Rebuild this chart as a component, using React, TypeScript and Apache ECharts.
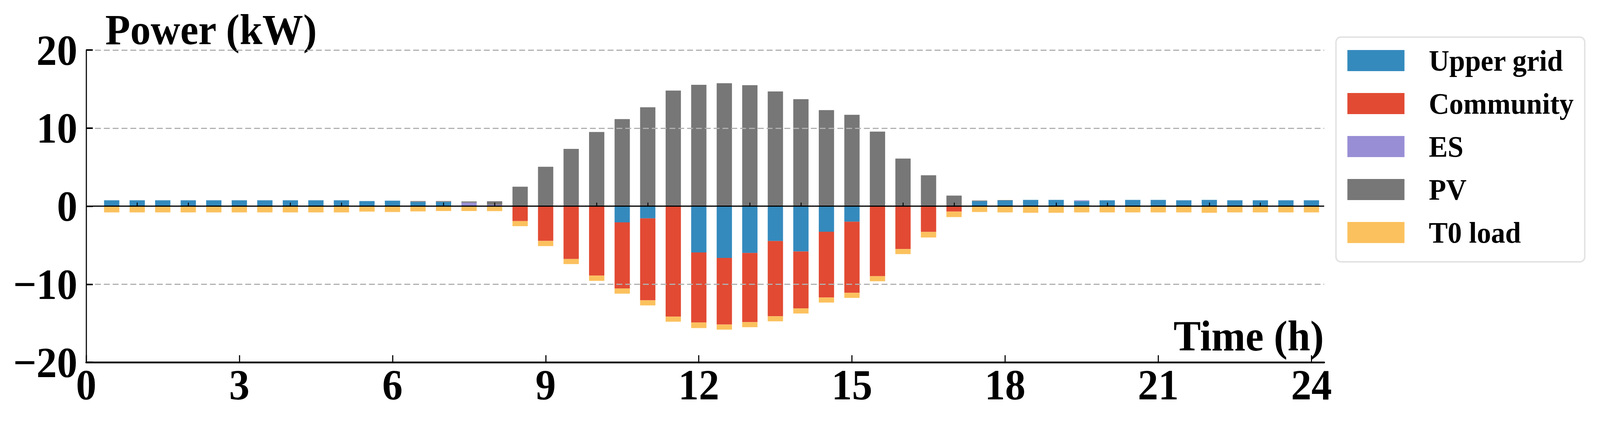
import React, { useEffect, useRef } from "react";
import * as echarts from "echarts";

const HOURS = [
  0.5, 1, 1.5, 2, 2.5, 3, 3.5, 4, 4.5, 5, 5.5, 6, 6.5, 7, 7.5, 8,
  8.5, 9, 9.5, 10, 10.5, 11, 11.5, 12, 12.5, 13, 13.5, 14, 14.5, 15, 15.5, 16,
  16.5, 17, 17.5, 18, 18.5, 19, 19.5, 20, 20.5, 21, 21.5, 22, 22.5, 23, 23.5, 24,
];

const UPPER_GRID = [
  0.75, 0.75, 0.75, 0.75, 0.75, 0.75, 0.75, 0.75, 0.75, 0.75, 0.65, 0.7, 0.55, 0.55, 0, 0,
  0, 0, 0, 0, -2.08, -1.56, 0, -5.93, -6.63, -6.0, -4.47, -5.81, -3.28, -1.99, 0, 0,
  0, 0, 0.65, 0.72, 0.8, 0.8, 0.65, 0.75, 0.8, 0.8, 0.75, 0.8, 0.75, 0.75, 0.75, 0.75,
];

const COMMUNITY = [
  0, 0, 0, 0, 0, 0, 0, 0, 0, 0, 0, 0, 0, 0, 0, 0,
  -1.91, -4.45, -6.77, -8.9, -8.47, -10.5, -14.16, -8.97, -8.54, -8.86, -9.64, -7.3, -8.42, -9.11, -8.97, -5.5,
  -3.3, -0.7, 0, 0, 0, 0, 0, 0, 0, 0, 0, 0, 0, 0, 0, 0,
];

const ES = [
  0, 0, 0, 0, 0, 0, 0, 0, 0, 0, 0, 0, 0, 0, 0.45, 0.18,
  0, 0, 0, 0, 0, 0, 0, 0, 0, 0, 0, 0, 0, 0, 0, 0,
  0, 0, 0, 0, 0, 0, 0.1, 0, 0, 0, 0, 0, 0, 0, 0, 0,
];

const PV = [
  0, 0, 0, 0, 0, 0, 0, 0, 0, 0, 0, 0, 0.1, 0.1, 0.15, 0.45,
  2.49, 5.05, 7.34, 9.5, 11.15, 12.66, 14.81, 15.55, 15.74, 15.5, 14.69, 13.71, 12.3, 11.7, 9.55, 6.1,
  3.95, 1.35, 0.07, 0.05, 0, 0, 0, 0, 0, 0, 0, 0, 0, 0, 0, 0,
];

const T0_LOAD = [
  -0.8, -0.8, -0.8, -0.8, -0.8, -0.8, -0.8, -0.8, -0.8, -0.8, -0.7, -0.75, -0.67, -0.62, -0.62, -0.64,
  -0.65, -0.67, -0.65, -0.67, -0.67, -0.65, -0.65, -0.72, -0.65, -0.65, -0.65, -0.65, -0.65, -0.65, -0.65, -0.65,
  -0.72, -0.7, -0.75, -0.8, -0.85, -0.85, -0.8, -0.8, -0.8, -0.8, -0.8, -0.85, -0.8, -0.8, -0.8, -0.8,
];

const SERIES_NAMES = ["Upper grid", "Community", "ES", "PV", "T0 load"];
const SERIES_VALUES = [UPPER_GRID, COMMUNITY, ES, PV, T0_LOAD];
const SERIES_COLORS = ["#348ABD", "#E24A33", "#988ED5", "#777777", "#FBC15E"];

const X_MAJOR_TICKS = [0, 3, 6, 9, 12, 15, 18, 21, 24];
const X_MINOR_TICKS = [1, 2, 4, 5, 7, 8, 10, 11, 13, 14, 16, 17, 19, 20, 22, 23];
const Y_TICKS = [-20, -10, 0, 10, 20];

const FONT = "'Liberation Serif', 'Times New Roman', Times, serif";
const DESIGN_W = 4345;
const DESIGN_H = 1085;

export default function App() {
  const ref = useRef<HTMLDivElement>(null);
  const sx = typeof window !== "undefined" ? window.innerWidth / DESIGN_W : 1;
  const sy = typeof window !== "undefined" ? window.innerHeight / DESIGN_H : 1;

  useEffect(() => {
    if (!ref.current) return;
    const chart = echarts.init(ref.current, null, { renderer: "svg" });

    const series: any[] = SERIES_NAMES.map((name, si) => ({
      name,
      type: "bar",
      stack: "total",
      stackStrategy: "samesign",
      xAxisIndex: 0,
      yAxisIndex: 0,
      barWidth: 41.5,
      itemStyle: { color: SERIES_COLORS[si] },
      // value first so that stacking is applied to the y dimension
      encode: { x: 1, y: 0 },
      data: HOURS.map((h, i) => [SERIES_VALUES[si][i], h]),
      z: 2,
    }));
    series[4].markLine = {
      silent: true,
      symbol: ["none", "none"],
      label: { show: false },
      lineStyle: { color: "#000", width: 3, type: "solid" },
      z: 6,
      data: [{ yAxis: 0 }],
    };

    const option: any = {
      animation: false,
      backgroundColor: "#fff",
      grid: { left: 234, right: 749, top: 128, bottom: 158, containLabel: false },
      xAxis: [
        {
          type: "value",
          min: 0,
          max: 24.25,
          interval: 3,
          position: "bottom",
          z: 4,
          axisLine: { show: true, onZero: false, lineStyle: { color: "#000", width: 4.5 } },
          axisTick: {
            show: true,
            inside: true,
            length: 18,
            customValues: X_MAJOR_TICKS,
            lineStyle: { color: "#000", width: 3 },
          },
          axisLabel: {
            show: true,
            customValues: X_MAJOR_TICKS,
            margin: 2,
            color: "#000",
            fontFamily: FONT,
            fontWeight: "bold",
            fontSize: 111,
            lineHeight: 111,
          },
          splitLine: { show: false },
        },
        {
          type: "value",
          min: 0,
          max: 24.25,
          position: "bottom",
          z: 4,
          axisLine: { show: false },
          axisTick: {
            show: true,
            inside: true,
            length: 9,
            customValues: X_MINOR_TICKS,
            lineStyle: { color: "#000", width: 2.5 },
          },
          axisLabel: { show: false },
          splitLine: { show: false },
        },
      ],
      yAxis: {
        type: "value",
        min: -20,
        max: 20,
        interval: 10,
        z: 3,
        axisLine: { show: true, onZero: false, lineStyle: { color: "#000", width: 3 } },
        axisTick: {
          show: true,
          inside: true,
          length: 18,
          customValues: Y_TICKS,
          lineStyle: { color: "#000", width: 4 },
        },
        axisLabel: {
          show: true,
          margin: 24,
          color: "#000",
          fontFamily: FONT,
          fontWeight: "bold",
          fontSize: 111,
          formatter: (v: number) => String(v).replace("-", "\u2212"),
        },
        splitLine: {
          show: true,
          lineStyle: { color: "#b0b0b0", width: 3, type: [16, 8] },
        },
      },
      legend: {
        show: true,
        orient: "vertical",
        left: 3628,
        top: 95,
        padding: [21.5, 30, 36.5, 31],
        itemGap: 33,
        itemWidth: 155,
        itemHeight: 54,
        icon: "rect",
        borderColor: "#e3e3e3",
        borderWidth: 4,
        borderRadius: 13,
        backgroundColor: "#fff",
        data: SERIES_NAMES,
        textStyle: {
          color: "#000",
          fontFamily: FONT,
          fontWeight: "bold",
          fontSize: 77,
          lineHeight: 77,
          padding: [0, 0, 0, 61],
        },
      },
      graphic: [
        {
          type: "text",
          x: 286,
          y: 75.5,
          silent: true,
          style: {
            text: "Power (kW)",
            fill: "#000",
            fontFamily: FONT,
            fontWeight: "bold",
            fontSize: 111,
            align: "left",
            verticalAlign: "middle",
          },
        },
        {
          type: "text",
          x: 3595,
          y: 859.5,
          silent: true,
          style: {
            text: "Time (h)",
            fill: "#000",
            fontFamily: FONT,
            fontWeight: "bold",
            fontSize: 111,
            align: "right",
            verticalAlign: "middle",
          },
        },
      ],
      series,
    };

    chart.setOption(option);
    return () => {
      chart.dispose();
    };
  }, []);

  return (
    <div
      style={{
        position: "fixed",
        left: 0,
        top: 0,
        width: DESIGN_W,
        height: DESIGN_H,
        transform: `scale(${sx}, ${sy})`,
        transformOrigin: "0 0",
        background: "#fff",
      }}
    >
      <div ref={ref} style={{ width: DESIGN_W, height: DESIGN_H }} />
    </div>
  );
}
